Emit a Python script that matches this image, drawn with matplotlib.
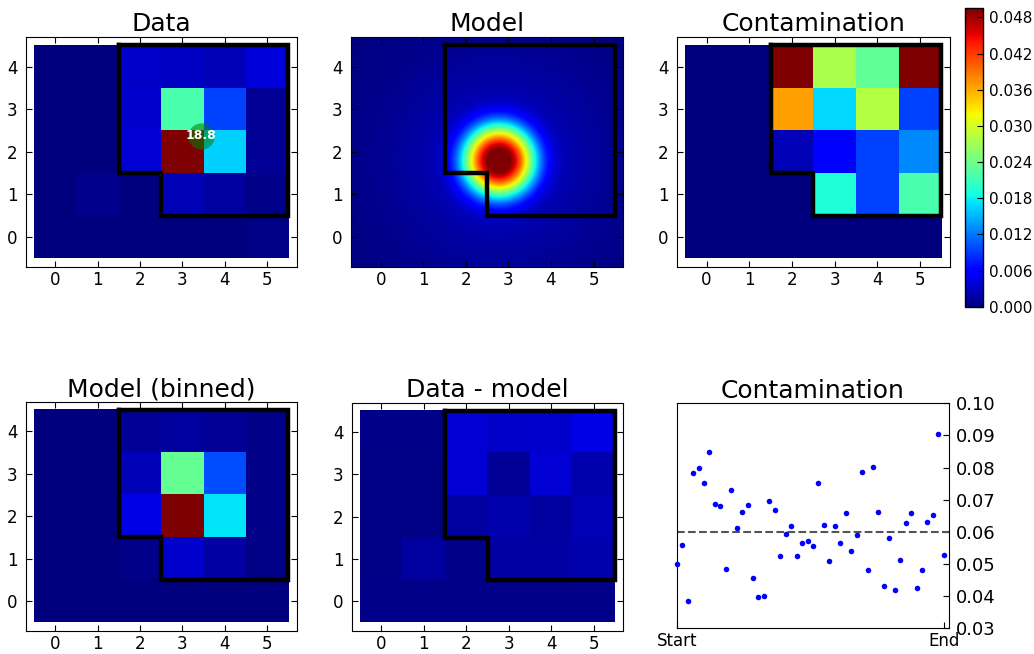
import numpy as np
import matplotlib
matplotlib.use("Agg")
import matplotlib.pyplot as plt

# pixel grids, rows listed from y=0 (bottom) to y=4 (top), 6 columns x=0..5
data_img = [
    [0.000, 0.000, 0.000, 0.000, 0.000, 0.005],
    [0.000, 0.012, 0.000, 0.050, 0.030, 0.010],
    [0.000, 0.000, 0.075, 1.000, 0.330, 0.020],
    [0.000, 0.000, 0.070, 0.440, 0.190, 0.020],
    [0.000, 0.000, 0.065, 0.060, 0.050, 0.080],
]
binned_img = [
    [0.000, 0.000, 0.000, 0.000, 0.000, 0.000],
    [0.000, 0.000, 0.010, 0.070, 0.035, 0.005],
    [0.000, 0.000, 0.090, 1.000, 0.350, 0.010],
    [0.000, 0.000, 0.050, 0.470, 0.200, 0.010],
    [0.000, 0.000, 0.020, 0.030, 0.020, 0.010],
]
resid_img = [
    [0.010, 0.010, 0.010, 0.010, 0.010, 0.010],
    [0.005, 0.030, 0.010, 0.035, 0.035, 0.040],
    [0.005, 0.005, 0.030, 0.040, 0.030, 0.050],
    [0.005, 0.005, 0.075, 0.020, 0.075, 0.040],
    [0.010, 0.010, 0.075, 0.065, 0.070, 0.090],
]
contam_img = [
    [0.0, 0.0, 0.0, 0.0, 0.0, 0.0],
    [0.0, 0.0, 0.0, 0.0193, 0.0094, 0.0218],
    [0.0, 0.0, 0.0024, 0.0057, 0.0094, 0.0129],
    [0.0, 0.0, 0.0366, 0.0167, 0.0282, 0.0094],
    [0.0, 0.0, 0.0495, 0.0275, 0.0232, 0.0495],
]
cb_ticks = [0.000, 0.006, 0.012, 0.018, 0.024, 0.030, 0.036, 0.042, 0.048]

# aperture outline
ap_x = [1.5, 5.5, 5.5, 2.5, 2.5, 1.5, 1.5]
ap_y = [4.5, 4.5, 0.5, 0.5, 1.5, 1.5, 4.5]

# star marker in the data panel
star_x, star_y, star_label = 3.45, 2.38, "18.8"

# PSF model parameters (core + faint halo)
psf_x0, psf_y0 = 2.77, 1.80
psf_a, psf_k = 0.815, 2.55
halo_amp, halo_sigma = 0.06, 1.8

# contamination per cadence
contam = [0.0499, 0.0559, 0.0384, 0.0782, 0.0798, 0.0753, 0.0850, 0.0686, 0.0680, 0.0484,
          0.0730, 0.0611, 0.0662, 0.0685, 0.0455, 0.0397, 0.0400, 0.0695, 0.0667, 0.0525,
          0.0594, 0.0619, 0.0525, 0.0564, 0.0573, 0.0557, 0.0753, 0.0622, 0.0509, 0.0617,
          0.0565, 0.0659, 0.0541, 0.0590, 0.0787, 0.0480, 0.0801, 0.0662, 0.0433, 0.0580,
          0.0420, 0.0513, 0.0628, 0.0659, 0.0426, 0.0481, 0.0630, 0.0654, 0.0906, 0.0528]
contam_level = 0.0601

W, H = 1034, 654
fig = plt.figure(figsize=(W / 100, H / 100), dpi=100)
fig.patch.set_facecolor("white")


def px_axes(l, t, r, b):
    return fig.add_axes([l / W, 1 - b / H, (r - l) / W, (b - t) / H])


XL, YL = (-0.7, 5.7), (-0.7, 4.7)


def style_img(ax, title):
    ax.set_xlim(*XL)
    ax.set_ylim(*YL)
    ax.set_xticks(range(6))
    ax.set_yticks(range(5))
    ax.tick_params(direction="in", top=True, right=True, length=4, labelsize=12, pad=3)
    ax.tick_params(axis="y", pad=6)
    ax.set_title(title, fontsize=18, pad=4)
    ax.plot(ap_x, ap_y, color="black", lw=3.2, solid_joinstyle="miter", zorder=3)


def show_grid(ax, grid, vmax, title):
    ax.imshow(np.array(grid), cmap="jet", origin="lower", interpolation="nearest",
              vmin=0, vmax=vmax, extent=(-0.5, 5.5, -0.5, 4.5), aspect="auto")
    style_img(ax, title)


ax1 = px_axes(25.7, 36.7, 296.7, 266.7)
show_grid(ax1, data_img, 1.0, "Data")
ax1.plot(star_x, star_y, "o", ms=19, color="green", alpha=0.55, mew=0, zorder=4)
ax1.text(star_x, star_y, star_label, color="white", fontsize=9, fontweight="bold",
         ha="center", va="center", zorder=5)

ax2 = px_axes(351, 36.7, 623.3, 266.7)
xx, yy = np.meshgrid(np.linspace(XL[0], XL[1], 400), np.linspace(YL[0], YL[1], 340))
rr = np.hypot(xx - psf_x0, yy - psf_y0)
model = np.exp(-(rr / psf_a) ** psf_k) + halo_amp * np.exp(-rr ** 2 / (2 * halo_sigma ** 2))
ax2.imshow(model, cmap="jet", origin="lower", vmin=0, vmax=1,
           extent=(XL[0], XL[1], YL[0], YL[1]), aspect="auto")
style_img(ax2, "Model")

ax3 = px_axes(676.7, 36.7, 950, 266.7)
im3 = ax3.imshow(np.array(contam_img), cmap="jet", origin="lower", interpolation="nearest",
                 vmin=0, vmax=0.0495, extent=(-0.5, 5.5, -0.5, 4.5), aspect="auto")
style_img(ax3, "Contamination")

cax = px_axes(965, 8.3, 983, 306.7)
cb = fig.colorbar(im3, cax=cax, ticks=cb_ticks)
cb.ax.set_yticklabels([f"{t:.3f}" for t in cb_ticks])
cb.ax.tick_params(direction="in", length=4, labelsize=11, pad=4)
cb.outline.set_linewidth(1)

ax4 = px_axes(25.7, 401.7, 296.7, 630.7)
show_grid(ax4, binned_img, 1.0, "Model (binned)")

ax5 = px_axes(351.7, 402.7, 623.3, 630.7)
show_grid(ax5, resid_img, 1.0, "Data - model")

ax6 = px_axes(676.7, 403.3, 949.3, 628.3)
idx = np.arange(len(contam))
ax6.plot(idx, contam, "o", ms=4, color="#0000ff", mew=0, clip_on=False, zorder=3)
ax6.axhline(contam_level, color="#555555", lw=1.5, ls="--")
ax6.set_xlim(0, 50)
ax6.set_ylim(0.03, 0.10)
ax6.yaxis.tick_right()
yt = np.arange(0.03, 0.1001, 0.01)
ax6.set_yticks(yt)
ax6.set_yticklabels([f"{v:.2f}" for v in yt])
ax6.set_xticks([0, len(contam) - 1])
ax6.set_xticklabels(["Start", "End"])
ax6.tick_params(direction="in", length=4, labelsize=12, pad=3)
ax6.tick_params(axis="y", labelsize=13, pad=5)
ax6.set_title("Contamination", fontsize=18, pad=4)

fig.savefig("out.png", dpi=100, facecolor="white")
